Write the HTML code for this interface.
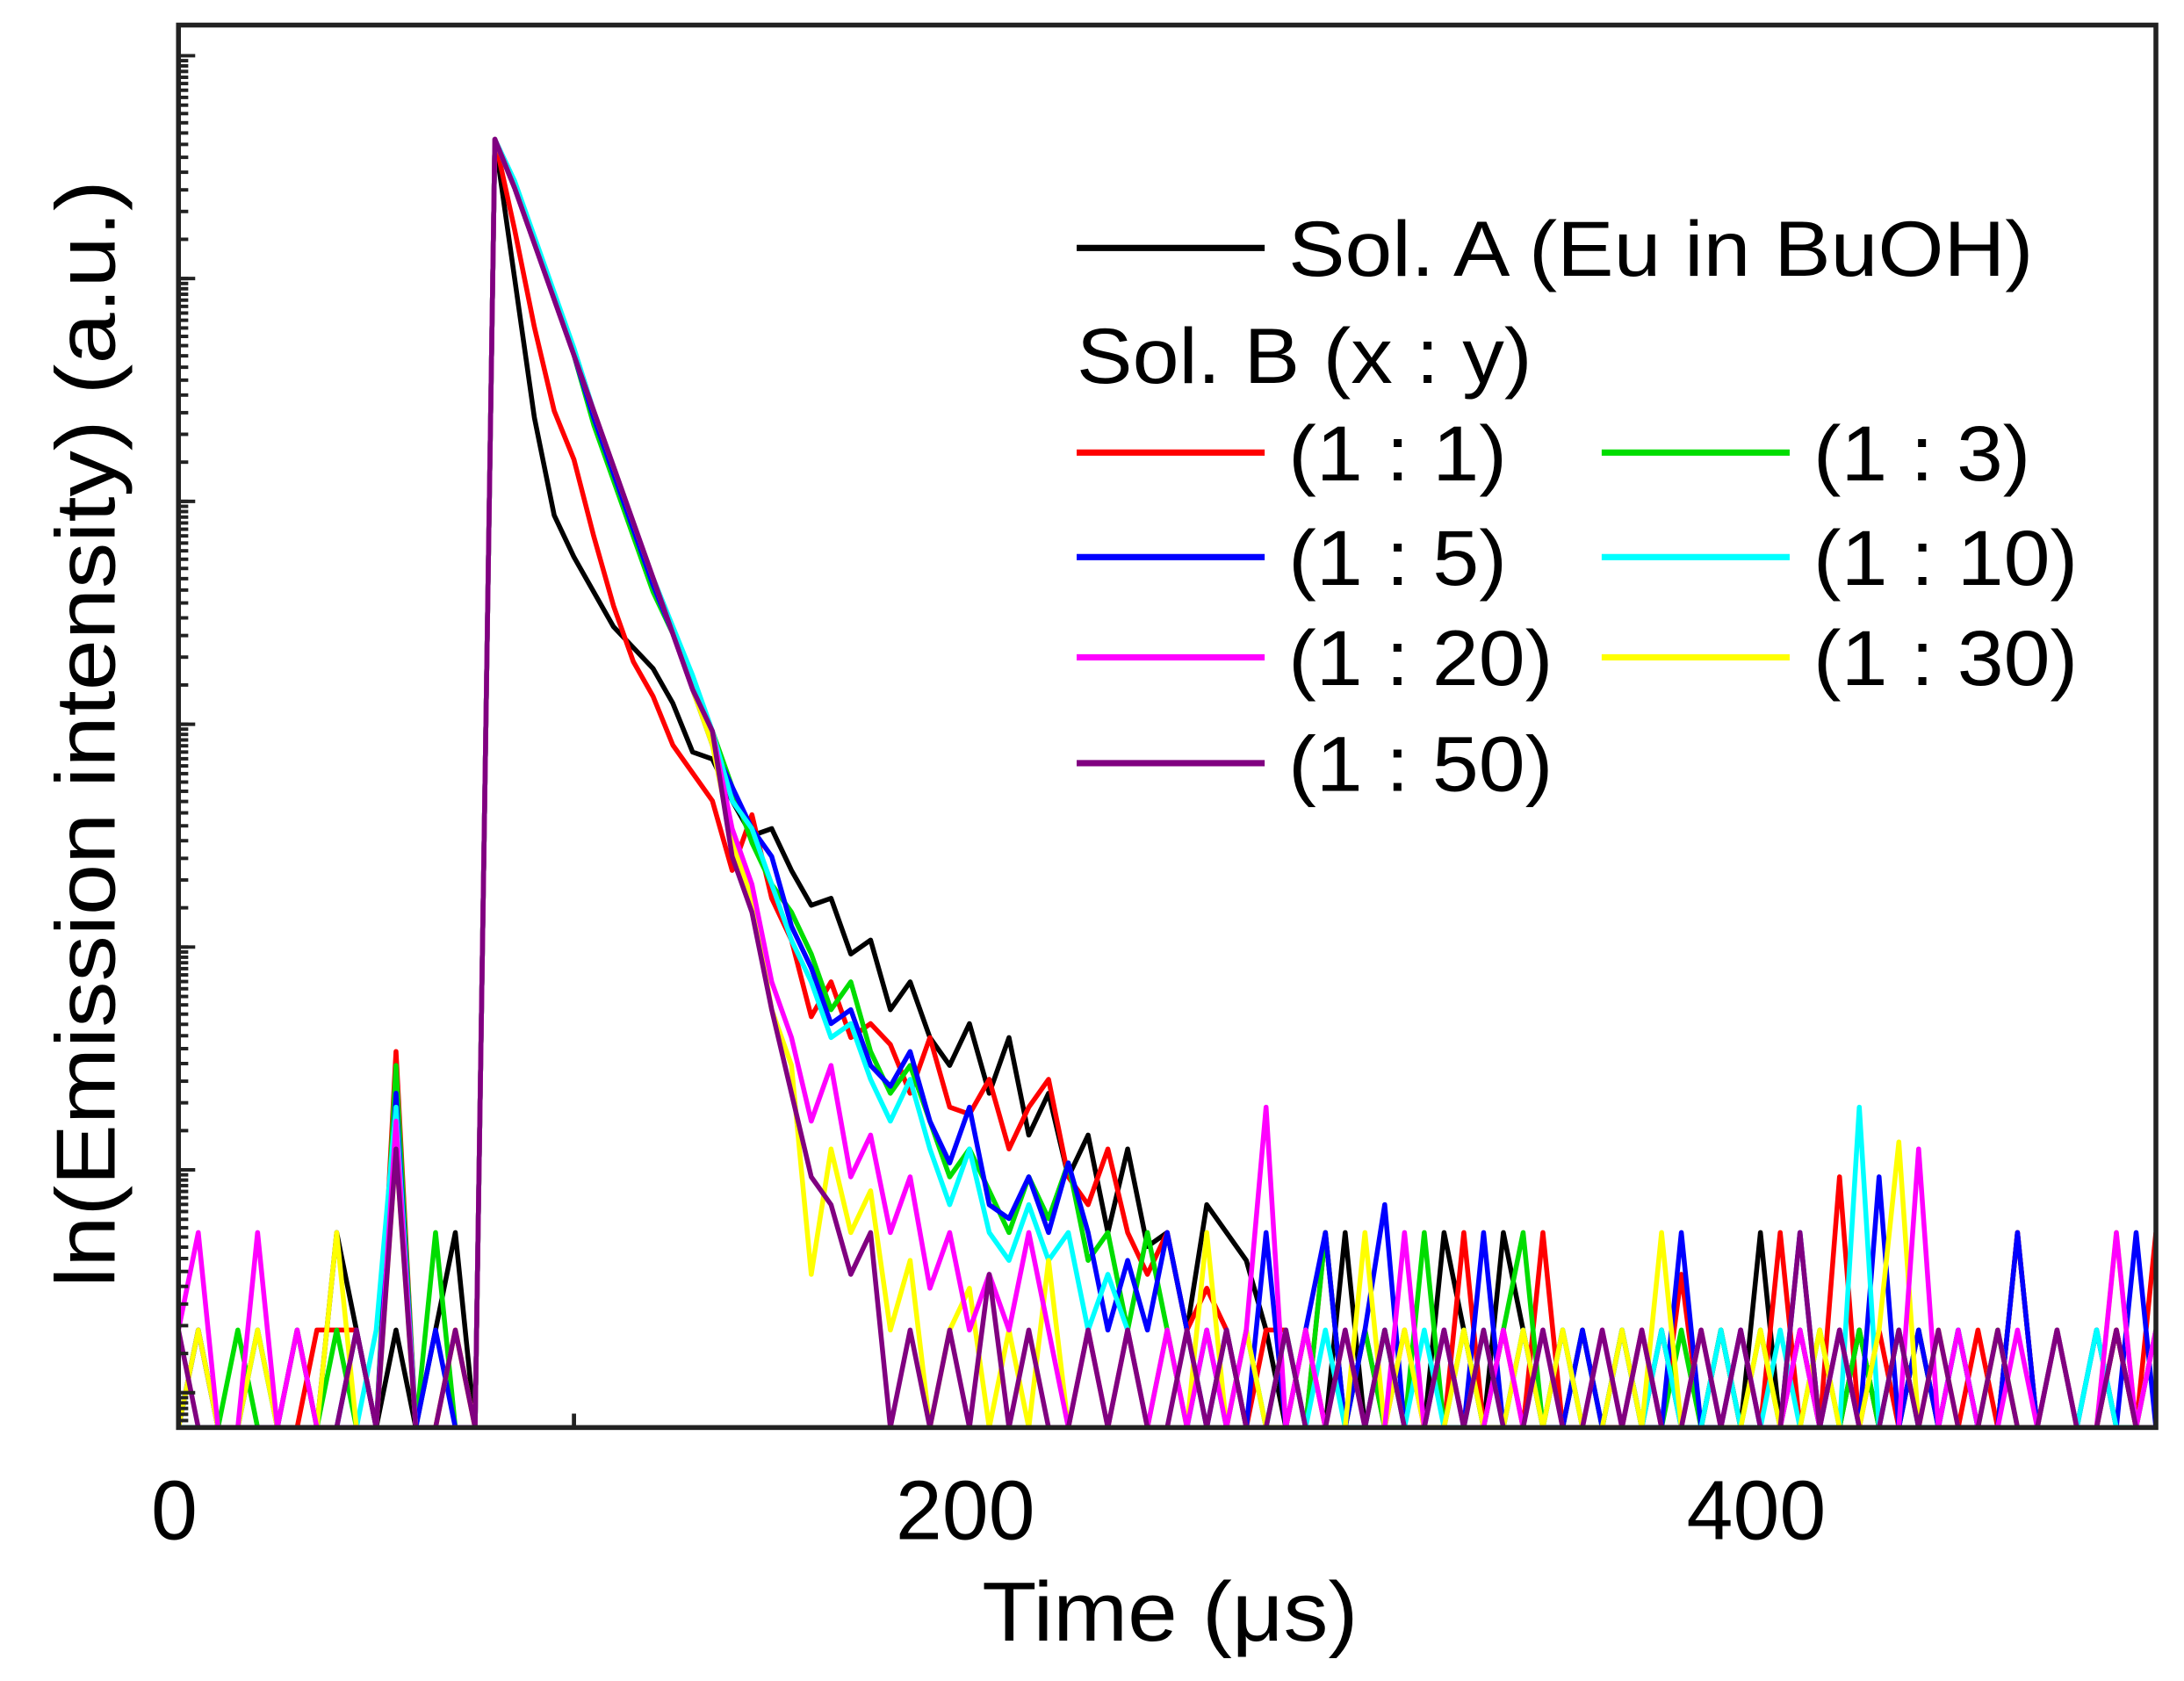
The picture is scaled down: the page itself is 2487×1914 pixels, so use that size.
<!DOCTYPE html>
<html><head><meta charset="utf-8"><style>
html,body{margin:0;padding:0;background:#fff}
svg{display:block}
text{font-family:"Liberation Sans",Arial,sans-serif;fill:#000}
</style></head><body>
<svg id="chart" width="2487" height="1914" viewBox="0 0 1568 1207" xmlns="http://www.w3.org/2000/svg">
<defs><clipPath id="pc"><rect x="128" y="18" width="1420" height="1007"/></clipPath></defs>
<g id="series" clip-path="url(#pc)"></g>
<g id="axes"></g>
<text x="82" y="527" font-size="60" text-anchor="middle" textLength="795" lengthAdjust="spacingAndGlyphs" transform="rotate(-90 82 527)">ln(Emission intensity) (a.u.)</text>
<text x="840" y="1178" font-size="60" text-anchor="middle" textLength="270" lengthAdjust="spacingAndGlyphs">Time (μs)</text>
<g id="legend"></g>
</svg>
<script>
const xTicks=[0,200,400];
const seriesNames=["Sol. A (Eu in BuOH)","(1 : 1)","(1 : 3)","(1 : 5)","(1 : 10)","(1 : 30)","(1 : 20)","(1 : 50)"];
const seriesColors=["#000000","#ff0000","#00dd00","#0000ff","#00ffff","#ffff00","#ff00ff","#800080"];
const tStep=5;
const black=[0,0.7,0,0,0.7,0,0.7,0,1.4,0.7,0,0.7,0,0.7,1.4,0,
9.25,8.25,7.25,6.55,6.25,6.0,5.75,5.6,5.45,5.2,4.85,4.8,4.5,4.25,4.3,4.0,3.75,3.8,3.4,3.5,3.0,3.2,2.8,2.6,2.9,2.4,2.8,2.1,2.4,1.8,2.1,1.4,2.0,1.3,1.4,0.7,1.6,1.4,1.2,0.7,
0,0.7,0,1.4,0,0.7,0,0,1.4,0.7,0,1.4,0.7,0,0.7,0,0,0.7,0,0.7,0,0,0.7,0,1.4,0,0.7,0,0,0.7,0,0.7,0,0,0.7,0,0,1.4,0,0.7,0,0,0.7,0,0.7];
const red=[0,0,0,0,0,0,0,0.7,0.7,0.7,0,2.7,0,0,0.7,0,
9.25,8.6,7.9,7.3,6.95,6.4,5.9,5.5,5.25,4.9,4.7,4.5,4.0,4.4,3.8,3.5,2.95,3.2,2.8,2.9,2.75,2.4,2.8,2.3,2.25,2.5,2.0,2.3,2.5,1.8,1.6,2.0,1.4,1.1,1.4,0.7,1.0,0.7,0,0.7,
0.7,0,1.4,0,0.7,0,0.7,0,0,1.4,0,0.7,0,1.4,0,0.7,0,0,0.7,0,1.1,0,0.7,0,0,1.4,0,0,1.8,0,0.7,0,0.7,0,0,0.7,0,1.4,0,0.7,0,0,0.7,0,1.4];
const green=[0,0,0,0.7,0,0,0,0,0.7,0,0,2.6,0,1.4,0,0,
9.25,8.9,8.5,8.1,7.7,7.2,6.8,6.4,6.0,5.7,5.35,5.0,4.6,4.2,3.9,3.7,3.4,3.0,3.2,2.7,2.4,2.6,2.2,1.8,2.0,1.7,1.4,1.8,1.5,1.9,1.2,1.4,0.7,1.4,0.7,0,0.7,0,0.7,0,
0.7,0,1.4,0,0.7,0,0,1.4,0,0.7,0,0.7,1.4,0,0,0.7,0,0.7,0,0,0.7,0,0.7,0,0.7,0,0,0.7,0,0.7,0,0,0.7,0,0.7,0,0.7,0,0,0.7,0,0.7,0,0,0.7];
const blue=[0,0.7,0,0,0,0,0,0,0,0.7,0,2.4,0,0.7,0,0,
9.25,8.9,8.5,8.1,7.7,7.25,6.85,6.45,6.05,5.7,5.3,4.9,4.6,4.3,4.1,3.6,3.3,2.9,3.0,2.6,2.45,2.7,2.2,1.9,2.3,1.6,1.5,1.8,1.4,1.9,1.4,0.7,1.2,0.7,1.4,0.7,0,0.7,0,1.4,
0,0.7,1.4,0,0.7,1.6,0,0,0.7,0,1.4,0,0.7,0,0,0.7,0,0.7,0,0,1.4,0,0,0.7,0,0,1.4,0,0.7,0,1.8,0,0.7,0,0.7,0,0,1.4,0,0.7,0,0.7,0,1.4,0];
const cyan=[0,0,0,0,0.7,0,0,0,0,0,0.7,2.3,0,0,0,0,
9.25,8.95,8.55,8.15,7.75,7.3,6.9,6.5,6.1,5.75,5.4,5.0,4.5,4.3,3.9,3.5,3.2,2.8,2.9,2.5,2.2,2.5,2.0,1.6,2.0,1.4,1.2,1.6,1.2,1.4,0.7,1.1,0.7,0,0.7,0,0.7,0,0.7,0,
0.7,0,0.7,0,0,0.7,0,0.7,0,0,0.7,0,0.7,0,0.7,0,0,0.7,0,0.7,0,0,0.7,0,0,0.7,0,0,0,2.3,0,0.7,0,0,0.7,0,0.7,0,0,0.7,0,0.7,0,0,0.7];
const yellow=[0,0.7,0,0,0.7,0,0,0,1.4,0,0,2.0,0,0,0.7,0,
9.25,8.9,8.5,8.1,7.7,7.3,6.9,6.5,6.1,5.7,5.3,4.9,4.2,3.8,3.0,2.6,1.1,2.0,1.4,1.7,0.7,1.2,0,0.7,1.0,0,0.7,0,1.2,0,0.7,0,0.7,0,0.7,0,1.4,0,0.7,0,
0,0.7,0,0,1.4,0,0.7,0,0,0.7,0,0,0.7,0,0.7,0,0,0.7,0,1.4,0,0.7,0,0,0.7,0,0,0.7,0,0,0.7,2.05,0,0.7,0,0,0.7,0,0,0.7,0,0,1.4,0,0.7];
const magenta=[0.7,1.4,0,0,1.4,0,0.7,0,0,0,0,2.2,0,0,0,0,
9.25,8.9,8.5,8.1,7.7,7.3,6.9,6.5,6.1,5.7,5.3,5.0,4.3,3.9,3.2,2.8,2.2,2.6,1.8,2.1,1.4,1.8,1.0,1.4,0.7,1.1,0.7,1.4,0.7,0,0.7,0,0.7,0,0.7,0,0.7,0,0.7,2.3,
0,0.7,0,0.7,0,0,1.4,0,0.7,0,0,0.7,0,0.7,0,0,0.7,0,0.7,0,0,0.7,0,0.7,0,0,0.7,0,0.7,0,0,0,2.0,0,0.7,0,0,0.7,0,0.7,0,0,1.4,0,0.7];
const purple=[0.7,0,0,0,0,0,0,0,0,0.7,0,2.0,0,0,0.7,0,
9.25,8.9,8.5,8.1,7.7,7.3,6.9,6.5,6.1,5.7,5.3,5.0,4.1,3.7,3.0,2.4,1.8,1.6,1.1,1.4,0,0.7,0,0.7,0,1.1,0,0.7,0,0,0.7,0,0.7,0,0,0.7,0,0.7,0,0,
0.7,0,0,0.7,0,0.7,0,0,0.7,0,0.7,0,0,0.7,0,0,0.7,0,0.7,0,0,0.7,0,0.7,0,0,1.4,0,0.7,0,0,0.7,0,0.7,0,0,0.7,0,0,0.7,0,0,0.7,0,0];
const seriesData=[black,red,green,blue,cyan,yellow,magenta,purple];

const X0=128,X1=1548,Y0=1025,Y1=25;
function xs(t){return X0+(t-0)/(500-0)*(X1-X0);}
function ys(v){return Y0-(v-0)/(10-0)*(Y0-Y1);}
const NS="http://www.w3.org/2000/svg";
const sg=document.getElementById('series');
seriesData.forEach((arr,k)=>{
  const p=document.createElementNS(NS,'polyline');
  p.setAttribute('points',arr.map((v,i)=>xs(i*tStep).toFixed(1)+','+ys(v).toFixed(1)).join(' '));
  p.setAttribute('fill','none');p.setAttribute('stroke',seriesColors[k]);p.setAttribute('stroke-width','3.5');p.setAttribute('stroke-linejoin','round');
  
  
  sg.appendChild(p);
});
const ax=document.getElementById('axes');
function el(tag,attrs,parent){const e=document.createElementNS(NS,tag);for(const k in attrs)e.setAttribute(k,attrs[k]);parent.appendChild(e);return e;}
const fr=el('rect',{x:128,y:18,width:1420,height:1007,fill:'none',stroke:'#222','stroke-width':3.5},ax);


for(let d=0;d<7;d++){
  const top=40+160*d;
  for(let k=1;k<=10;k+=0.5){
    const y=top+160*(1-Math.log10(k));
    if(y>1022)continue;
    const major=(k===10);
    const tk=el('line',{x1:128,x2:major?140:135,y1:y,y2:y,stroke:'#222','stroke-width':2.5},ax);
    
    
  }
}
xTicks.forEach(t=>{
  const tx=el('text',{x:xs(t)-3,y:1105,'font-size':60,'text-anchor':'middle'},ax);
  tx.textContent=t;
  
  
});
const mt=el('line',{x1:xs(100),x2:xs(100),y1:1025,y2:1015,stroke:'#222','stroke-width':3},ax);


const lg=document.getElementById('legend');
function entry(x,y,c,label,w){
  const g=el('g',{},lg);
  
  
  el('line',{x1:x,x2:x+135,y1:y,y2:y,stroke:c,'stroke-width':4.5},g);
  const t=el('text',{x:x+152,y:y+20,'font-size':56,textLength:w,lengthAdjust:'spacingAndGlyphs'},g);t.textContent=label;
}
entry(773,178,seriesColors[0],seriesNames[0],535);
const sb=el('text',{x:773,y:275,'font-size':56,textLength:327,lengthAdjust:'spacingAndGlyphs'},lg);sb.textContent='Sol. B (x : y)';


entry(773,325,seriesColors[1],seriesNames[1],157);
entry(1150,325,seriesColors[2],seriesNames[2],156);
entry(773,400,seriesColors[3],seriesNames[3],157);
entry(1150,400,seriesColors[4],seriesNames[4],190);
entry(773,472,seriesColors[6],seriesNames[6],190);
entry(1150,472,seriesColors[5],seriesNames[5],190);
entry(773,548,seriesColors[7],seriesNames[7],190);
</script>
</body></html>
